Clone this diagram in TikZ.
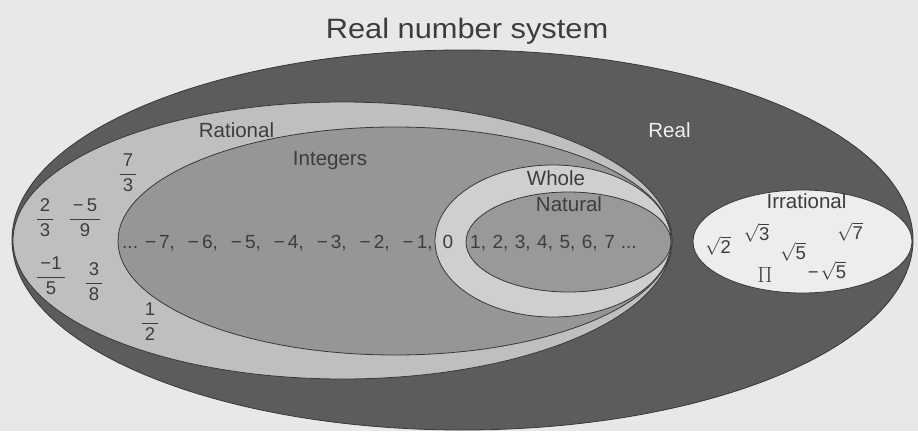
\RequirePackage{fix-cm}
\documentclass[tikz,border=0pt]{standalone}
\usepackage{amsmath}
\usepackage{fontspec}
\setmainfont{Liberation Sans}
\newfontfamily\widefont[FakeStretch=1.1]{Liberation Sans}
\usepackage{xcolor}
\usetikzlibrary{shapes.geometric}

\definecolor{paper}{gray}{0.91}
\definecolor{realfill}{gray}{0.36}
\definecolor{ratfill}{gray}{0.75}
\definecolor{intfill}{gray}{0.59}
\definecolor{wholefill}{gray}{0.81}
\definecolor{natfill}{gray}{0.60}
\definecolor{irrfill}{gray}{0.93}
\definecolor{edge}{gray}{0.22}
\definecolor{ink}{gray}{0.24}

\newcommand{\negnum}[1]{−\hspace{3pt}#1,\hspace{13pt}}
\newcommand{\fr}[2]{$\dfrac{\,\text{#1}\,}{\,\text{#2}\,}$}

\begin{document}
\begin{tikzpicture}[
  x=1pt, y=-1pt,
  region/.style={ellipse, draw=edge, line width=0.8pt, inner sep=0pt},
  lbl/.style={font=\fontsize{20.5}{24}\selectfont, text=ink, inner sep=0pt, anchor=base},
  num/.style={font=\fontsize{19}{22}\selectfont, text=ink, inner sep=0pt, anchor=base},
  fracn/.style={font=\fontsize{18.5}{22}\selectfont, text=ink, inner sep=0pt}
]
\useasboundingbox (0,0) rectangle (918,431);
\fill[paper] (0,0) rectangle (918,431);

% nested sets
\node[region, fill=realfill, minimum width=901pt, minimum height=380pt] (real) at (462.5,240) {};
\node[region, fill=ratfill, minimum width=659pt, minimum height=277pt] (rational) at (342.5,240.5) {};
\node[region, fill=intfill, minimum width=554pt, minimum height=228pt] (integers) at (395,241) {};
\node[region, fill=wholefill, minimum width=236pt, minimum height=152pt] (whole) at (553,241) {};
\node[region, fill=natfill, minimum width=205pt, minimum height=100pt] (natural) at (568.5,242) {};
\node[region, fill=irrfill, minimum width=219pt, minimum height=103pt] (irrational) at (802.5,241.5) {};

% labels
\node[inner sep=0pt, anchor=base, text=ink, font=\widefont\fontsize{28}{32}\selectfont] (title) at (467,38.5) {Real number system};
\node[lbl] (lblrat) at (236.5,137) {Rational};
\node[lbl] (lblint) at (330,165) {Integers};
\node[lbl, text=gray!12] (lblreal) at (669.5,137.7) {Real};
\node[lbl] (lblwhole) at (556,185) {Whole};
\node[lbl] (lblnat) at (569,211) {Natural};
\node[lbl] (lblirr) at (806.5,208) {Irrational};

% integers row
\node[num, anchor=base west] (negs) at (122,248) {...\hspace{7pt}\negnum{7}\negnum{6}\negnum{5}\negnum{4}\negnum{3}\negnum{2}−\hspace{3pt}1,};
\node[num] (zero) at (448,248) {0};
\node[num, anchor=base west] (pos) at (470,248) {1,\hspace{6.5pt}2,\hspace{6.5pt}3,\hspace{6.5pt}4,\hspace{6.5pt}5,\hspace{6.5pt}6,\hspace{6.5pt}7\hspace{6pt}...};

% fractions
\node[fracn] (f73) at (128,173) {\fr{7}{3}};
\node[fracn] (f23) at (45,218) {\fr{2}{3}};
\node[fracn] (f59) at (85,218) {\fr{−\hspace{3pt}5}{9}};
\node[fracn] (f15) at (51,276) {\fr{−1}{5}};
\node[fracn] (f38) at (94,282) {\fr{3}{8}};
\node[fracn] (f12) at (150,322) {\fr{1}{2}};

% irrationals
\node[fracn] (r2) at (718,246) {$\sqrt{\text{2}}$};
\node[fracn] (r3) at (756.5,233) {$\sqrt{\text{3}}$};
\node[fracn] (r7) at (850,232) {$\sqrt{\text{7}}$};
\node[fracn] (r5) at (793,252) {$\sqrt{\text{5}}$};
\node[fracn, font=\fontsize{22}{26}\selectfont] (pi) at (765,275) {$\Pi$};
\node[fracn] (mr5) at (827,271) {−\hspace{2pt}$\sqrt{\text{5}}$};
\end{tikzpicture}
\end{document}
